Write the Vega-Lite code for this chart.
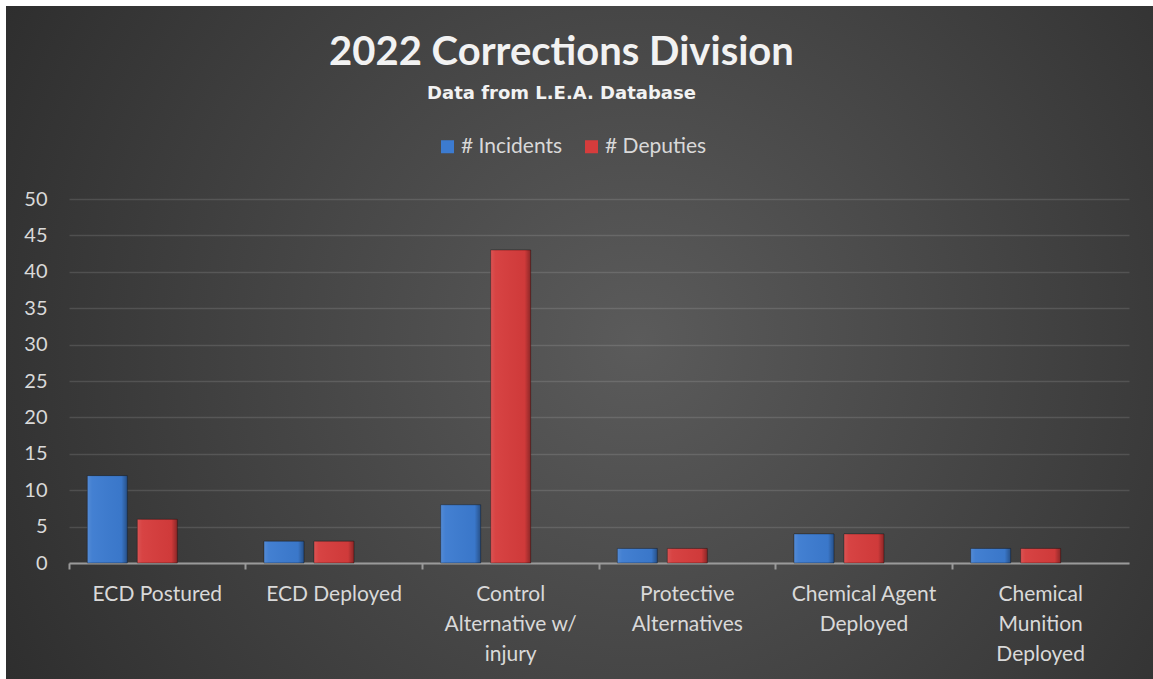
{
  "$schema": "https://vega.github.io/schema/vega-lite/v6.json",
  "width": 1147,
  "height": 673,
  "autosize": {"type": "none"},
  "padding": {"left": 6, "top": 6, "right": 0, "bottom": 0},
  "background": "#ffffff",
  "view": {
    "stroke": null,
    "fill": {"expr": "{gradient: 'radial', x1: 0.55, y1: 0.5, r1: 0, x2: 0.55, y2: 0.5, r2: 0.75, stops: [{offset: 0, color: '#5b5b5b'}, {offset: 1, color: '#252525'}]}"}
  },
  "config": {
    "font": "Lato",
    "legend": {"labelFont": "Lato"},
    "axis": {"labelFont": "Lato"}
  },
  "title": {
    "text": "2022 Corrections Division",
    "subtitle": "Data from L.E.A. Database",
    "anchor": "middle",
    "frame": "group",
    "dx": -18,
    "offset": -97,
    "font": "Lato",
    "fontSize": 40,
    "fontWeight": "bold",
    "color": "#f2f2f2",
    "subtitleFont": "DejaVu Sans",
    "subtitleFontSize": 18,
    "subtitleFontWeight": "bold",
    "subtitleColor": "#f2f2f2",
    "subtitlePadding": 12
  },
  "data": {
    "values": [
      {"category": "ECD Postured", "series": "# Incidents", "value": 12},
      {"category": "ECD Postured", "series": "# Deputies", "value": 6},
      {"category": "ECD Deployed", "series": "# Incidents", "value": 3},
      {"category": "ECD Deployed", "series": "# Deputies", "value": 3},
      {"category": "Control Alternative w/ injury", "series": "# Incidents", "value": 8},
      {"category": "Control Alternative w/ injury", "series": "# Deputies", "value": 43},
      {"category": "Protective Alternatives", "series": "# Incidents", "value": 2},
      {"category": "Protective Alternatives", "series": "# Deputies", "value": 2},
      {"category": "Chemical Agent Deployed", "series": "# Incidents", "value": 4},
      {"category": "Chemical Agent Deployed", "series": "# Deputies", "value": 4},
      {"category": "Chemical Munition Deployed", "series": "# Incidents", "value": 2},
      {"category": "Chemical Munition Deployed", "series": "# Deputies", "value": 2}
    ]
  },
  "encoding": {
    "x": {
      "field": "category",
      "type": "nominal",
      "sort": null,
      "scale": {"range": [63, 1123], "paddingInner": 0, "paddingOuter": 0},
      "axis": {
        "title": null,
        "offset": -116,
        "bandPosition": 0,
        "labelAngle": 0,
        "labelColor": "#d9d9d9",
        "labelFontSize": 21,
        "labelPadding": 14,
        "labelLineHeight": 30,
        "labelBaseline": "top",
        "domainColor": "#9a9a9a",
        "domainWidth": 2,
        "tickColor": "#9a9a9a",
        "tickWidth": 2,
        "tickSize": 6,
        "labelExpr": "datum.value == 'Control Alternative w/ injury' ? ['Control', 'Alternative w/', 'injury'] : datum.value == 'Protective Alternatives' ? ['Protective', 'Alternatives'] : datum.value == 'Chemical Agent Deployed' ? ['Chemical Agent', 'Deployed'] : datum.value == 'Chemical Munition Deployed' ? ['Chemical', 'Munition', 'Deployed'] : datum.value"
      }
    },
    "xOffset": {
      "field": "series",
      "type": "nominal",
      "scale": {"domain": ["# Incidents", "# Deputies", "(empty)"], "paddingInner": 0.2, "paddingOuter": 0.367}
    },
    "y": {
      "field": "value",
      "type": "quantitative",
      "scale": {"domain": [0, 50], "range": [557, 193], "nice": false, "zero": true},
      "axis": {
        "title": null,
        "offset": -63,
        "values": [0, 5, 10, 15, 20, 25, 30, 35, 40, 45, 50],
        "domain": false,
        "ticks": false,
        "labelColor": "#d9d9d9",
        "labelFontSize": 20,
        "labelPadding": 22,
        "gridColor": "#ffffff",
        "gridOpacity": 0.12,
        "gridWidth": 1.5
      }
    }
  },
  "layer": [
    {
      "mark": {"type": "bar", "stroke": "#000000", "strokeOpacity": 0.35, "strokeWidth": 1},
      "encoding": {
        "color": {
          "field": "series",
          "type": "nominal",
          "scale": {"domain": ["# Incidents", "# Deputies"], "range": ["#3c7bd0", "#d63c3c"]},
          "legend": {
            "title": null,
            "orient": "none",
            "legendX": 431,
            "legendY": 130,
            "direction": "horizontal",
            "symbolType": "square",
            "symbolSize": 169,
            "symbolStrokeWidth": 0,
            "labelFontSize": 21,
            "labelColor": "#d9d9d9",
            "labelOffset": 3,
            "columnPadding": 18
          }
        }
      }
    },
    {
      "mark": {
        "type": "bar",
        "fill": {"gradient": "linear", "x1": 0, "y1": 0, "x2": 1, "y2": 0, "stops": [
          {"offset": 0, "color": "rgba(255,255,255,0.12)"},
          {"offset": 0.12, "color": "rgba(255,255,255,0.04)"},
          {"offset": 0.85, "color": "rgba(0,0,0,0.03)"},
          {"offset": 1, "color": "rgba(0,0,0,0.35)"}
        ]}
      }
    }
  ]
}
